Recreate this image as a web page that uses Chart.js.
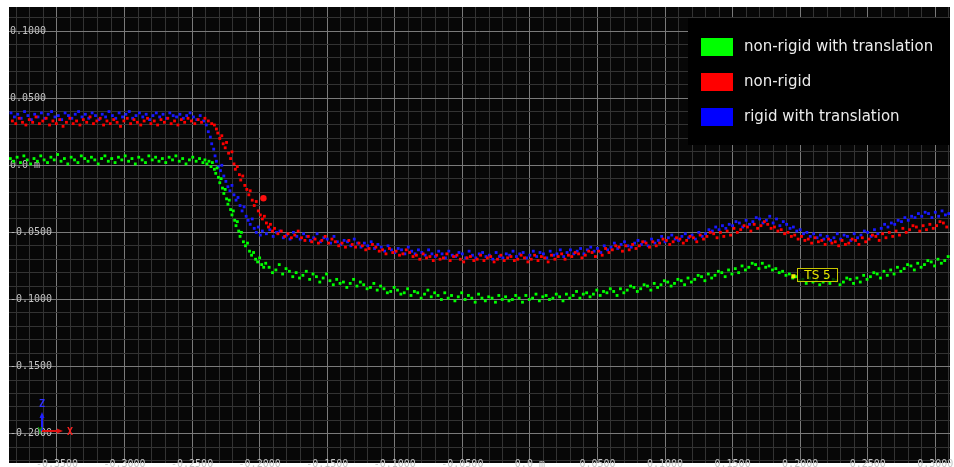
<!DOCTYPE html>
<html>
<head>
<meta charset="utf-8">
<script src="https://cdn.jsdelivr.net/npm/chart.js@4.4.1/dist/chart.umd.min.js"></script>
<style>
  html, body { margin: 0; padding: 0; background: #ffffff; }
  #wrap { width: 954px; height: 467px; }
</style>
</head>
<body>
<div id="wrap"><canvas id="cloud" width="954" height="467"></canvas></div>
<script>
// axis ranges (metres) and tick labels
const xRange = [-0.3855, 0.3109];
const yRange = [-0.2218, 0.1179];
const xMajor = [-0.35, -0.3, -0.25, -0.2, -0.15, -0.1, -0.05, 0, 0.05, 0.1, 0.15, 0.2, 0.25, 0.3];
const xMajorLabels = ['-0.3500', '-0.3000', '-0.2500', '-0.2000', '-0.1500', '-0.1000', '-0.0500', '0.0 m', '0.0500', '0.1000', '0.1500', '0.2000', '0.2500', '0.3000'];
const yMajor = [0.1, 0.05, 0, -0.05, -0.1, -0.15, -0.2];
const yMajorLabels = ['0.1000', '0.0500', '0.0 m', '-0.0500', '-0.1000', '-0.1500', '-0.2000'];

const seriesLabels = ['non-rigid with translation', 'non-rigid', 'rigid with translation'];
const seriesColors = ['#00ff00', '#ff0000', '#0000ff'];

// green: non-rigid with translation
const greenPts = [
  [-0.3845,0.005],[-0.382,0.003],[-0.3795,0.006],[-0.377,0.002],[-0.3745,0.007],[-0.372,0.004],[-0.3695,0.001],[-0.367,0.005],
  [-0.3645,0.003],[-0.362,0.007],[-0.3595,0.004],[-0.357,0.002],[-0.3545,0.006],[-0.352,0.004],[-0.3495,0.008],[-0.347,0.003],
  [-0.3445,0.005],[-0.342,0.001],[-0.3395,0.006],[-0.337,0.004],[-0.3345,0.002],[-0.332,0.007],[-0.3295,0.005],[-0.327,0.003],
  [-0.3245,0.006],[-0.322,0.004],[-0.3195,0.001],[-0.317,0.005],[-0.3145,0.007],[-0.312,0.003],[-0.3095,0.005],[-0.307,0.002],
  [-0.3045,0.006],[-0.302,0.004],[-0.2995,0.007],[-0.297,0.003],[-0.2945,0.005],[-0.292,0.001],[-0.2895,0.006],[-0.287,0.004],
  [-0.2845,0.002],[-0.282,0.007],[-0.2795,0.004],[-0.277,0.006],[-0.2745,0.003],[-0.272,0.005],[-0.2695,0.002],[-0.267,0.006],
  [-0.2645,0.004],[-0.262,0.007],[-0.2595,0.003],[-0.257,0.005],[-0.2545,0.001],[-0.252,0.004],[-0.2495,0.006],[-0.247,0.003],
  [-0.2445,0.005],[-0.242,0.002],
  [-0.2405,0.004],[-0.239,0.001],[-0.2375,0.003],[-0.236,-0.001],[-0.235,0.002],[-0.2335,-0.003],[-0.2325,-0.006],[-0.2315,-0.002],
  [-0.2305,-0.009],[-0.2295,-0.013],[-0.2285,-0.010],[-0.2275,-0.017],[-0.2265,-0.021],[-0.2255,-0.018],[-0.2245,-0.025],[-0.2235,-0.029],
  [-0.2225,-0.026],[-0.2215,-0.033],[-0.2205,-0.037],[-0.2195,-0.034],[-0.2185,-0.041],[-0.2175,-0.045],[-0.2165,-0.042],[-0.2155,-0.049],
  [-0.2145,-0.053],[-0.2135,-0.050],[-0.212,-0.057],[-0.2105,-0.060],[-0.209,-0.058],[-0.2075,-0.064],[-0.206,-0.067],[-0.2045,-0.065],
  [-0.203,-0.070],[-0.2015,-0.072],[-0.200,-0.069],[-0.1985,-0.074],[-0.197,-0.076],[-0.1955,-0.073],
  [-0.193,-0.076],[-0.1905,-0.080],[-0.188,-0.078],[-0.1855,-0.074],[-0.183,-0.081],[-0.1805,-0.077],[-0.178,-0.079],[-0.1755,-0.083],
  [-0.173,-0.080],[-0.1705,-0.084],[-0.168,-0.082],[-0.1655,-0.079],[-0.163,-0.085],[-0.1605,-0.081],[-0.158,-0.083],[-0.1555,-0.087],
  [-0.153,-0.084],[-0.1505,-0.081],[-0.148,-0.086],[-0.1455,-0.089],[-0.143,-0.085],[-0.1405,-0.088],[-0.138,-0.087],[-0.1355,-0.091],
  [-0.133,-0.088],[-0.1305,-0.085],[-0.128,-0.090],[-0.1255,-0.087],[-0.123,-0.089],[-0.1205,-0.092],[-0.118,-0.091],[-0.1155,-0.088],
  [-0.113,-0.093],[-0.1105,-0.090],[-0.108,-0.092],[-0.1055,-0.095],[-0.103,-0.094],[-0.1005,-0.091],[-0.098,-0.093],[-0.0955,-0.096],
  [-0.093,-0.095],[-0.0905,-0.092],[-0.088,-0.097],[-0.0855,-0.094],[-0.083,-0.095],[-0.0805,-0.099],[-0.078,-0.096],[-0.0755,-0.093],
  [-0.073,-0.098],[-0.0705,-0.095],[-0.068,-0.097],[-0.0655,-0.100],[-0.063,-0.095],[-0.0605,-0.099],[-0.058,-0.097],[-0.0555,-0.101],
  [-0.053,-0.098],[-0.0505,-0.095],[-0.048,-0.100],[-0.0455,-0.097],[-0.043,-0.099],[-0.0405,-0.102],[-0.038,-0.096],[-0.0355,-0.099],
  [-0.033,-0.101],[-0.0305,-0.098],[-0.028,-0.099],[-0.0255,-0.102],[-0.023,-0.097],[-0.0205,-0.100],[-0.018,-0.098],[-0.0155,-0.101],
  [-0.013,-0.100],[-0.0105,-0.097],[-0.008,-0.099],[-0.0055,-0.102],[-0.003,-0.097],[-0.0005,-0.100],[0.002,-0.099],[0.0045,-0.096],
  [0.007,-0.101],[0.0095,-0.098],[0.012,-0.097],[0.0145,-0.100],[0.017,-0.099],[0.0195,-0.096],[0.022,-0.098],[0.0245,-0.101],
  [0.027,-0.096],[0.0295,-0.099],[0.032,-0.097],[0.0345,-0.094],[0.037,-0.099],[0.0395,-0.096],[0.042,-0.095],[0.0445,-0.098],
  [0.047,-0.096],[0.0495,-0.093],[0.052,-0.097],[0.0545,-0.094],[0.057,-0.095],[0.0595,-0.092],[0.062,-0.094],[0.0645,-0.097],
  [0.067,-0.092],[0.0695,-0.095],[0.072,-0.093],[0.0745,-0.090],[0.077,-0.091],[0.0795,-0.094],[0.082,-0.092],[0.0845,-0.089],
  [0.087,-0.090],[0.0895,-0.093],[0.092,-0.088],[0.0945,-0.091],[0.097,-0.089],[0.0995,-0.086],[0.102,-0.087],[0.1045,-0.090],
  [0.107,-0.088],[0.1095,-0.085],[0.112,-0.086],[0.1145,-0.089],[0.117,-0.084],[0.1195,-0.087],[0.122,-0.085],[0.1245,-0.082],
  [0.127,-0.083],[0.1295,-0.086],[0.132,-0.081],[0.1345,-0.084],[0.137,-0.082],[0.1395,-0.079],[0.142,-0.080],[0.1445,-0.083],
  [0.147,-0.078],[0.1495,-0.081],[0.152,-0.077],[0.1545,-0.080],[0.157,-0.075],[0.1595,-0.078],[0.162,-0.076],[0.1645,-0.073],
  [0.167,-0.074],[0.1695,-0.077],[0.172,-0.073],[0.1745,-0.076],[0.177,-0.075],[0.1795,-0.078],[0.182,-0.077],[0.1845,-0.080],
  [0.187,-0.079],[0.1895,-0.082],[0.192,-0.081],[0.1945,-0.084],[0.197,-0.083],[0.1995,-0.086],[0.202,-0.085],[0.2045,-0.088],
  [0.207,-0.084],[0.2095,-0.087],[0.212,-0.086],[0.2145,-0.089],[0.217,-0.087],[0.2195,-0.084],[0.222,-0.088],[0.2245,-0.085],
  [0.227,-0.086],[0.2295,-0.089],[0.232,-0.087],[0.2345,-0.084],[0.237,-0.085],[0.2395,-0.088],[0.242,-0.084],[0.2445,-0.087],
  [0.247,-0.082],[0.2495,-0.085],[0.252,-0.083],[0.2545,-0.080],[0.257,-0.081],[0.2595,-0.084],[0.262,-0.079],[0.2645,-0.082],
  [0.267,-0.078],[0.2695,-0.081],[0.272,-0.076],[0.2745,-0.079],[0.277,-0.077],[0.2795,-0.074],[0.282,-0.075],[0.2845,-0.078],
  [0.287,-0.073],[0.2895,-0.076],[0.292,-0.074],[0.2945,-0.071],[0.297,-0.072],[0.2995,-0.075],[0.302,-0.070],[0.3045,-0.073],
  [0.307,-0.071],[0.3095,-0.068]
];

// red: non-rigid
const redPts = [
  [-0.383,0.033],[-0.3805,0.031],[-0.378,0.035],[-0.3755,0.032],[-0.373,0.030],[-0.3705,0.034],[-0.368,0.032],[-0.3655,0.036],
  [-0.363,0.031],[-0.3605,0.033],[-0.358,0.035],[-0.3555,0.030],[-0.353,0.033],[-0.3505,0.031],[-0.348,0.034],[-0.3455,0.029],
  [-0.343,0.032],[-0.3405,0.035],[-0.338,0.031],[-0.3355,0.033],[-0.333,0.030],[-0.3305,0.034],[-0.328,0.032],[-0.3255,0.036],
  [-0.323,0.031],[-0.3205,0.033],[-0.318,0.035],[-0.3155,0.030],[-0.313,0.033],[-0.3105,0.031],[-0.308,0.034],[-0.3055,0.032],
  [-0.303,0.029],[-0.3005,0.033],[-0.298,0.035],[-0.2955,0.031],[-0.293,0.034],[-0.2905,0.032],[-0.288,0.030],[-0.2855,0.033],
  [-0.283,0.035],[-0.2805,0.031],[-0.278,0.033],[-0.2755,0.030],[-0.273,0.034],[-0.2705,0.032],[-0.268,0.035],[-0.2655,0.031],
  [-0.263,0.033],[-0.2605,0.030],[-0.258,0.034],[-0.2555,0.032],[-0.253,0.035],[-0.2505,0.033],[-0.248,0.031],[-0.2455,0.034],
  [-0.243,0.032],[-0.2405,0.035],[-0.238,0.033],[-0.2355,0.031],
  [-0.2335,0.030],[-0.232,0.027],[-0.231,0.024],[-0.2295,0.020],[-0.228,0.022],[-0.227,0.016],[-0.2255,0.013],[-0.2245,0.017],
  [-0.223,0.009],[-0.2215,0.005],[-0.2205,0.010],[-0.219,0.001],[-0.218,-0.003],[-0.2165,-0.001],[-0.215,-0.007],[-0.214,-0.011],
  [-0.2125,-0.008],[-0.211,-0.015],[-0.2095,-0.018],[-0.208,-0.022],[-0.207,-0.019],[-0.2055,-0.026],[-0.204,-0.030],[-0.2025,-0.027],
  [-0.201,-0.034],[-0.1995,-0.037],[-0.198,-0.040],[-0.1965,-0.038],[-0.195,-0.043],[-0.1935,-0.046],[-0.192,-0.044],[-0.1905,-0.049],
  [-0.189,-0.047],[-0.1865,-0.051],[-0.184,-0.049],[-0.1815,-0.053],[-0.179,-0.051],[-0.1765,-0.054],[-0.174,-0.052],[-0.1715,-0.049],
  [-0.169,-0.054],[-0.1665,-0.056],[-0.164,-0.053],[-0.1615,-0.057],[-0.159,-0.055],[-0.1565,-0.058],[-0.154,-0.056],[-0.1515,-0.053],
  [-0.149,-0.058],[-0.1465,-0.055],[-0.144,-0.057],[-0.1415,-0.060],[-0.139,-0.058],[-0.1365,-0.061],[-0.134,-0.056],[-0.1315,-0.059],
  [-0.129,-0.061],[-0.1265,-0.058],[-0.124,-0.060],[-0.1215,-0.063],[-0.119,-0.062],[-0.1165,-0.059],[-0.114,-0.061],[-0.1115,-0.064],
  [-0.109,-0.063],[-0.1065,-0.066],[-0.104,-0.062],[-0.1015,-0.065],[-0.099,-0.064],[-0.0965,-0.067],[-0.094,-0.066],[-0.0915,-0.063],
  [-0.089,-0.065],[-0.0865,-0.068],[-0.084,-0.067],[-0.0815,-0.070],[-0.079,-0.066],[-0.0765,-0.069],[-0.074,-0.068],[-0.0715,-0.071],
  [-0.069,-0.067],[-0.0665,-0.070],[-0.064,-0.069],[-0.0615,-0.066],[-0.059,-0.071],[-0.0565,-0.068],[-0.054,-0.067],[-0.0515,-0.070],
  [-0.049,-0.072],[-0.0465,-0.069],[-0.044,-0.068],[-0.0415,-0.071],[-0.039,-0.070],[-0.0365,-0.067],[-0.034,-0.071],[-0.0315,-0.069],
  [-0.029,-0.068],[-0.0265,-0.072],[-0.024,-0.070],[-0.0215,-0.067],[-0.019,-0.071],[-0.0165,-0.069],[-0.014,-0.068],[-0.0115,-0.071],
  [-0.009,-0.070],[-0.0065,-0.067],[-0.004,-0.069],[-0.0015,-0.072],[0.001,-0.070],[0.0035,-0.067],[0.006,-0.071],[0.0085,-0.068],
  [0.011,-0.069],[0.0135,-0.072],[0.016,-0.067],[0.0185,-0.070],[0.021,-0.068],[0.0235,-0.066],[0.026,-0.070],[0.0285,-0.067],
  [0.031,-0.068],[0.0335,-0.065],[0.036,-0.066],[0.0385,-0.069],[0.041,-0.067],[0.0435,-0.064],[0.046,-0.065],[0.0485,-0.068],
  [0.051,-0.064],[0.0535,-0.067],[0.056,-0.062],[0.0585,-0.065],[0.061,-0.063],[0.0635,-0.060],[0.066,-0.061],[0.0685,-0.064],
  [0.071,-0.060],[0.0735,-0.063],[0.076,-0.059],[0.0785,-0.062],[0.081,-0.060],[0.0835,-0.057],[0.086,-0.058],[0.0885,-0.061],
  [0.091,-0.057],[0.0935,-0.060],[0.096,-0.058],[0.0985,-0.055],[0.101,-0.056],[0.1035,-0.059],[0.106,-0.057],[0.1085,-0.054],
  [0.111,-0.055],[0.1135,-0.058],[0.116,-0.056],[0.1185,-0.053],[0.121,-0.054],[0.1235,-0.057],[0.126,-0.052],[0.1285,-0.055],
  [0.131,-0.053],[0.1335,-0.050],[0.136,-0.051],[0.1385,-0.054],[0.141,-0.050],[0.1435,-0.053],[0.146,-0.049],[0.1485,-0.052],
  [0.151,-0.047],[0.1535,-0.050],[0.156,-0.048],[0.1585,-0.045],[0.161,-0.046],[0.1635,-0.049],[0.166,-0.044],[0.1685,-0.047],
  [0.171,-0.045],[0.1735,-0.042],[0.176,-0.044],[0.1785,-0.047],[0.181,-0.046],[0.1835,-0.049],[0.186,-0.048],[0.1885,-0.051],
  [0.191,-0.050],[0.1935,-0.053],[0.196,-0.052],[0.1985,-0.055],[0.201,-0.053],[0.2035,-0.056],[0.206,-0.055],[0.2085,-0.058],
  [0.211,-0.054],[0.2135,-0.057],[0.216,-0.056],[0.2185,-0.059],[0.221,-0.055],[0.2235,-0.058],[0.226,-0.057],[0.2285,-0.060],
  [0.231,-0.056],[0.2335,-0.059],[0.236,-0.058],[0.2385,-0.055],[0.241,-0.056],[0.2435,-0.059],[0.246,-0.054],[0.2485,-0.057],
  [0.251,-0.055],[0.2535,-0.052],[0.256,-0.053],[0.2585,-0.056],[0.261,-0.051],[0.2635,-0.054],[0.266,-0.050],[0.2685,-0.053],
  [0.271,-0.049],[0.2735,-0.052],[0.276,-0.047],[0.2785,-0.050],[0.281,-0.048],[0.2835,-0.045],[0.286,-0.046],[0.2885,-0.049],
  [0.291,-0.045],[0.2935,-0.048],[0.296,-0.044],[0.2985,-0.047],[0.301,-0.045],[0.3035,-0.042],[0.306,-0.043],[0.3085,-0.046]
];
const redOutlier = [[-0.1972,-0.0246]];

// blue: rigid with translation
const bluePts = [
  [-0.384,0.039],[-0.3815,0.036],[-0.379,0.038],[-0.3765,0.035],[-0.374,0.040],[-0.3715,0.037],[-0.369,0.034],[-0.3665,0.038],
  [-0.364,0.036],[-0.3615,0.039],[-0.359,0.035],[-0.3565,0.038],[-0.354,0.040],[-0.3515,0.036],[-0.349,0.037],[-0.3465,0.034],
  [-0.344,0.039],[-0.3415,0.037],[-0.339,0.035],[-0.3365,0.038],[-0.334,0.040],[-0.3315,0.036],[-0.329,0.038],[-0.3265,0.035],
  [-0.324,0.039],[-0.3215,0.037],[-0.319,0.034],[-0.3165,0.038],[-0.314,0.036],[-0.3115,0.040],[-0.309,0.037],[-0.3065,0.035],
  [-0.304,0.039],[-0.3015,0.036],[-0.299,0.038],[-0.2965,0.040],[-0.294,0.035],[-0.2915,0.037],[-0.289,0.039],[-0.2865,0.036],
  [-0.284,0.038],[-0.2815,0.034],[-0.279,0.037],[-0.2765,0.039],[-0.274,0.036],[-0.2715,0.038],[-0.269,0.035],[-0.2665,0.039],
  [-0.264,0.037],[-0.2615,0.036],[-0.259,0.038],[-0.2565,0.035],[-0.254,0.037],[-0.2515,0.039],[-0.249,0.036],[-0.2465,0.034],
  [-0.244,0.037],[-0.2415,0.033],
  [-0.2395,0.030],[-0.238,0.025],[-0.2365,0.021],[-0.2355,0.016],[-0.234,0.012],[-0.233,0.007],[-0.232,0.003],[-0.2305,-0.001],
  [-0.229,-0.004],[-0.228,0.000],[-0.2265,-0.008],[-0.225,-0.012],[-0.2235,-0.016],[-0.222,-0.019],[-0.2205,-0.015],[-0.219,-0.022],
  [-0.2175,-0.026],[-0.216,-0.024],[-0.2145,-0.030],[-0.213,-0.034],[-0.2115,-0.031],[-0.210,-0.038],[-0.2085,-0.041],[-0.207,-0.044],
  [-0.2055,-0.040],[-0.204,-0.047],[-0.2025,-0.050],[-0.201,-0.046],[-0.1995,-0.052],[-0.198,-0.049],
  [-0.195,-0.051],[-0.1925,-0.048],[-0.190,-0.053],[-0.1875,-0.050],[-0.185,-0.049],[-0.1825,-0.054],[-0.180,-0.052],[-0.1775,-0.055],
  [-0.175,-0.050],[-0.1725,-0.053],[-0.170,-0.055],[-0.1675,-0.051],[-0.165,-0.053],[-0.1625,-0.056],[-0.160,-0.054],[-0.1575,-0.051],
  [-0.155,-0.057],[-0.1525,-0.054],[-0.150,-0.055],[-0.1475,-0.058],[-0.145,-0.053],[-0.1425,-0.057],[-0.140,-0.059],[-0.1375,-0.056],
  [-0.135,-0.057],[-0.1325,-0.060],[-0.130,-0.055],[-0.1275,-0.058],[-0.125,-0.061],[-0.1225,-0.058],[-0.120,-0.060],[-0.1175,-0.057],
  [-0.115,-0.062],[-0.1125,-0.059],[-0.110,-0.061],[-0.1075,-0.064],[-0.105,-0.060],[-0.1025,-0.063],[-0.100,-0.065],[-0.0975,-0.062],
  [-0.095,-0.063],[-0.0925,-0.066],[-0.090,-0.061],[-0.0875,-0.064],[-0.085,-0.066],[-0.0825,-0.063],[-0.080,-0.065],[-0.0775,-0.067],
  [-0.075,-0.063],[-0.0725,-0.066],[-0.070,-0.068],[-0.0675,-0.064],[-0.065,-0.066],[-0.0625,-0.069],[-0.060,-0.064],[-0.0575,-0.067],
  [-0.055,-0.068],[-0.0525,-0.065],[-0.050,-0.066],[-0.0475,-0.069],[-0.045,-0.064],[-0.0425,-0.067],[-0.040,-0.069],[-0.0375,-0.066],
  [-0.035,-0.065],[-0.0325,-0.068],[-0.030,-0.067],[-0.0275,-0.070],[-0.025,-0.065],[-0.0225,-0.068],[-0.020,-0.069],[-0.0175,-0.066],
  [-0.015,-0.067],[-0.0125,-0.064],[-0.010,-0.068],[-0.0075,-0.066],[-0.005,-0.065],[-0.0025,-0.069],[0.000,-0.067],[0.0025,-0.064],
  [0.005,-0.068],[0.0075,-0.065],[0.010,-0.066],[0.0125,-0.069],[0.015,-0.064],[0.0175,-0.067],[0.020,-0.066],[0.0225,-0.063],
  [0.025,-0.068],[0.0275,-0.065],[0.030,-0.063],[0.0325,-0.066],[0.035,-0.064],[0.0375,-0.062],[0.040,-0.066],[0.0425,-0.063],
  [0.045,-0.061],[0.0475,-0.064],[0.050,-0.062],[0.0525,-0.065],[0.055,-0.060],[0.0575,-0.063],[0.060,-0.061],[0.0625,-0.058],
  [0.065,-0.062],[0.0675,-0.059],[0.070,-0.057],[0.0725,-0.060],[0.075,-0.061],[0.0775,-0.058],[0.080,-0.056],[0.0825,-0.059],
  [0.085,-0.057],[0.0875,-0.060],[0.090,-0.055],[0.0925,-0.058],[0.095,-0.056],[0.0975,-0.053],[0.100,-0.057],[0.1025,-0.054],
  [0.105,-0.052],[0.1075,-0.055],[0.110,-0.056],[0.1125,-0.053],[0.115,-0.051],[0.1175,-0.054],[0.120,-0.052],[0.1225,-0.055],
  [0.125,-0.050],[0.1275,-0.053],[0.130,-0.051],[0.1325,-0.048],[0.135,-0.049],[0.1375,-0.046],[0.140,-0.048],[0.1425,-0.045],
  [0.145,-0.047],[0.1475,-0.044],[0.150,-0.045],[0.1525,-0.042],[0.155,-0.043],[0.1575,-0.046],[0.160,-0.041],[0.1625,-0.044],
  [0.165,-0.042],[0.1675,-0.039],[0.170,-0.040],[0.1725,-0.043],[0.175,-0.041],[0.1775,-0.038],[0.180,-0.043],[0.1825,-0.040],
  [0.185,-0.045],[0.1875,-0.042],[0.190,-0.044],[0.1925,-0.047],[0.195,-0.046],[0.1975,-0.049],[0.200,-0.048],[0.2025,-0.051],
  [0.205,-0.050],[0.2075,-0.053],[0.210,-0.051],[0.2125,-0.054],[0.215,-0.052],[0.2175,-0.055],[0.220,-0.053],[0.2225,-0.056],
  [0.225,-0.054],[0.2275,-0.051],[0.230,-0.055],[0.2325,-0.052],[0.235,-0.053],[0.2375,-0.056],[0.240,-0.051],[0.2425,-0.054],
  [0.245,-0.052],[0.2475,-0.049],[0.250,-0.050],[0.2525,-0.053],[0.255,-0.048],[0.2575,-0.051],[0.260,-0.047],[0.2625,-0.044],
  [0.265,-0.046],[0.2675,-0.043],[0.270,-0.044],[0.2725,-0.041],[0.275,-0.042],[0.2775,-0.039],[0.280,-0.041],[0.2825,-0.038],
  [0.285,-0.039],[0.2875,-0.036],[0.290,-0.038],[0.2925,-0.035],[0.295,-0.036],[0.2975,-0.039],[0.300,-0.035],[0.3025,-0.038],
  [0.305,-0.034],[0.3075,-0.037],[0.310,-0.036]
];

// highlighted point "TS 5"
const tsPoint = [[0.195,-0.0827]];
const tsText = 'TS 5';

const toXY = pts => pts.map(p => ({x: p[0], y: p[1]}));
const isMajor = (v, list) => list.some(m => Math.abs(m - v) < 1e-6);

// minor grid every 0.01
const xGrid = [];
for (let i = -38; i <= 31; i++) xGrid.push(i / 100);
const yGrid = [];
for (let i = -22; i <= 11; i++) yGrid.push(i / 100);

const plotBackground = {
  id: 'plotBackground',
  beforeDraw(chart) {
    const {ctx, chartArea: a} = chart;
    ctx.save();
    ctx.fillStyle = '#070707';
    ctx.fillRect(a.left, a.top, a.right - a.left, a.bottom - a.top);
    ctx.restore();
  }
};

// legend panel in the upper right corner of the plot
const legendPanel = {
  id: 'legendPanel',
  beforeDatasetsDraw(chart) {
    const {ctx, chartArea: a} = chart;
    const left = a.right - 262, top = a.top + 11;
    ctx.save();
    ctx.fillStyle = '#000000';
    ctx.fillRect(left, top, a.right - left, 127);
    ctx.font = '15px "DejaVu Sans"';
    ctx.textBaseline = 'middle';
    ctx.textAlign = 'left';
    seriesLabels.forEach((label, i) => {
      const y = top + 29 + i * 35;
      ctx.fillStyle = seriesColors[i];
      ctx.fillRect(left + 13, y - 9, 32, 18);
      ctx.fillStyle = '#ececec';
      ctx.fillText(label, left + 56, y);
    });
    ctx.restore();
  }
};

// label box next to the highlighted point + small axis triad
const overlays = {
  id: 'overlays',
  afterDatasetsDraw(chart) {
    const {ctx, chartArea: a} = chart;
    const pt = chart.getDatasetMeta(4).data[0];
    ctx.save();
    if (pt) {
      const bx = Math.round(pt.x) + 4.5, by = Math.round(pt.y) - 7.5;
      ctx.fillStyle = 'rgba(0,0,0,0.75)';
      ctx.fillRect(bx, by, 40, 13);
      ctx.strokeStyle = '#c8c800';
      ctx.lineWidth = 1;
      ctx.strokeRect(bx, by, 40, 13);
      ctx.fillStyle = '#e8e800';
      ctx.font = '12px "DejaVu Sans"';
      ctx.textAlign = 'center';
      ctx.textBaseline = 'middle';
      ctx.fillText(tsText, bx + 20, by + 7);
    }
    // axis triad
    const ox = a.left + 33, oy = a.bottom - 32;
    ctx.lineWidth = 2;
    ctx.strokeStyle = '#2020ff';
    ctx.beginPath(); ctx.moveTo(ox, oy); ctx.lineTo(ox, oy - 15); ctx.stroke();
    ctx.fillStyle = '#2020ff';
    ctx.beginPath(); ctx.moveTo(ox - 2.5, oy - 13); ctx.lineTo(ox, oy - 19); ctx.lineTo(ox + 2.5, oy - 13); ctx.fill();
    ctx.strokeStyle = '#e01010';
    ctx.beginPath(); ctx.moveTo(ox, oy); ctx.lineTo(ox + 16, oy); ctx.stroke();
    ctx.fillStyle = '#e01010';
    ctx.beginPath(); ctx.moveTo(ox + 15, oy - 2.5); ctx.lineTo(ox + 21, oy); ctx.lineTo(ox + 15, oy + 2.5); ctx.fill();
    ctx.font = 'bold 10px "DejaVu Sans Mono"';
    ctx.textAlign = 'center';
    ctx.textBaseline = 'middle';
    ctx.fillStyle = '#3030ff';
    ctx.fillText('Z', ox, oy - 27);
    ctx.fillStyle = '#ff2020';
    ctx.fillText('X', ox + 28, oy + 1);
    ctx.fillStyle = '#10a010';
    ctx.font = 'bold 8px "DejaVu Sans Mono"';
    ctx.fillText('Y', ox - 2, oy + 1);
    ctx.restore();
  }
};

const tickFont = {family: '"DejaVu Sans Mono"', size: 10};
const tickColor = '#c4c4c4';
const gridColor = list => c => (c.tick && isMajor(c.tick.value, list)) ? '#7a7a7a' : '#333333';

const pointStyle = {
  showLine: false,
  pointStyle: 'rect',
  pointRadius: 2,
  pointBorderWidth: 0,
  pointHoverRadius: 2
};

new Chart(document.getElementById('cloud'), {
  type: 'scatter',
  data: {
    datasets: [
      Object.assign({label: seriesLabels[1], data: toXY(redPts), backgroundColor: seriesColors[1], order: 2}, pointStyle),
      Object.assign({label: seriesLabels[2], data: toXY(bluePts), backgroundColor: '#1818ff', order: 3}, pointStyle),
      Object.assign({label: seriesLabels[0], data: toXY(greenPts), backgroundColor: seriesColors[0], order: 1}, pointStyle),
      {label: 'outlier', data: toXY(redOutlier), backgroundColor: '#ff1010', pointStyle: 'circle', pointRadius: 3.2, pointBorderWidth: 0, order: 0},
      {label: tsText, data: toXY(tsPoint), backgroundColor: '#f0f000', pointStyle: 'rect', pointRadius: 2.9, pointBorderWidth: 0, order: 0}
    ]
  },
  options: {
    responsive: false,
    animation: false,
    events: [],
    layout: {padding: {left: 9, top: 7, right: 2, bottom: 0}},
    plugins: {legend: {display: false}, tooltip: {enabled: false}},
    scales: {
      x: {
        type: 'linear',
        min: xRange[0],
        max: xRange[1],
        afterBuildTicks: s => { s.ticks = xGrid.map(v => ({value: v})); },
        afterFit: s => { s.height = 0; s.paddingLeft = 0; s.paddingRight = 0; },
        border: {display: false},
        grid: {color: gridColor(xMajor), lineWidth: 1, drawTicks: false},
        ticks: {
          autoSkip: false,
          maxRotation: 0,
          minRotation: 0,
          mirror: true,
          padding: -7,
          font: tickFont,
          color: tickColor,
          callback: v => {
            const i = xMajor.findIndex(m => Math.abs(m - v) < 1e-6);
            return i >= 0 ? xMajorLabels[i] : '';
          }
        }
      },
      y: {
        type: 'linear',
        min: yRange[0],
        max: yRange[1],
        afterBuildTicks: s => { s.ticks = yGrid.map(v => ({value: v})); },
        afterFit: s => { s.width = 0; s.paddingTop = 0; s.paddingBottom = 0; },
        border: {display: false},
        grid: {color: gridColor(yMajor), lineWidth: 1, drawTicks: false},
        ticks: {
          autoSkip: false,
          mirror: true,
          padding: 1,
          font: tickFont,
          color: tickColor,
          callback: v => {
            const i = yMajor.findIndex(m => Math.abs(m - v) < 1e-6);
            return i >= 0 ? yMajorLabels[i] : '';
          }
        }
      }
    }
  },
  plugins: [plotBackground, legendPanel, overlays]
});
</script>
</body>
</html>
